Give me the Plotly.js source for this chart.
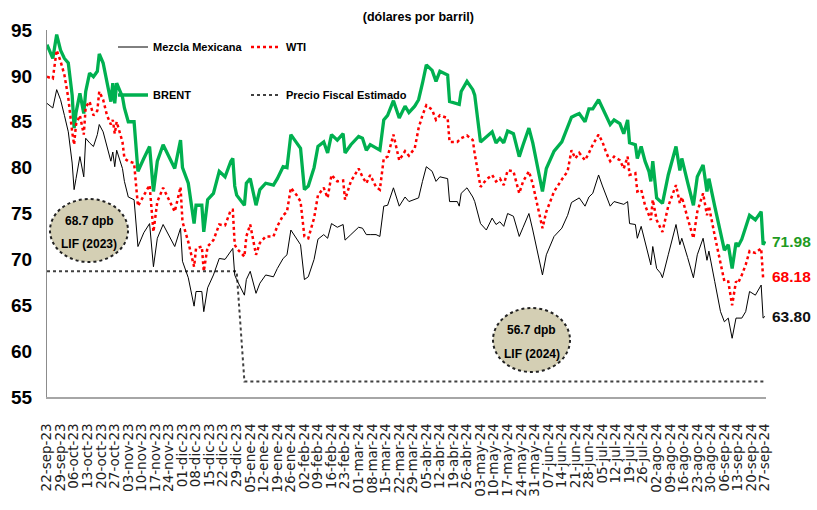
<!DOCTYPE html>
<html><head><meta charset="utf-8">
<script src="https://cdn.plot.ly/plotly-3.0.1.min.js"></script>
<style>html,body{margin:0;padding:0;background:#fff;overflow:hidden}#chart{width:817px;height:510px}</style>
</head><body><div id="chart"></div>
<script>
const fechas = ['2023-09-22','2023-09-25','2023-09-27','2023-09-29','2023-10-01','2023-10-03','2023-10-05','2023-10-06','2023-10-07','2023-10-09',
'2023-10-11','2023-10-12','2023-10-14','2023-10-16','2023-10-18','2023-10-19','2023-10-21','2023-10-23','2023-10-25','2023-10-26',
'2023-10-27','2023-10-28','2023-10-31','2023-11-01','2023-11-03','2023-11-06','2023-11-08','2023-11-11','2023-11-14','2023-11-16',
'2023-11-18','2023-11-21','2023-11-24','2023-11-27','2023-11-30','2023-12-01','2023-12-04','2023-12-07','2023-12-08','2023-12-11',
'2023-12-12','2023-12-14','2023-12-17','2023-12-20','2023-12-23','2023-12-26','2023-12-27','2023-12-28','2023-12-29','2024-01-02',
'2024-01-03','2024-01-05','2024-01-08','2024-01-10','2024-01-13','2024-01-17','2024-01-19','2024-01-22','2024-01-24','2024-01-26',
'2024-01-29','2024-01-31','2024-02-02','2024-02-04','2024-02-07','2024-02-09','2024-02-12','2024-02-14','2024-02-16','2024-02-19',
'2024-02-22','2024-02-23','2024-02-26','2024-03-01','2024-03-03','2024-03-05','2024-03-07','2024-03-10','2024-03-12','2024-03-14',
'2024-03-16','2024-03-19','2024-03-22','2024-03-25','2024-03-27','2024-03-30','2024-04-01','2024-04-03','2024-04-05','2024-04-08',
'2024-04-10','2024-04-12','2024-04-16','2024-04-17','2024-04-21','2024-04-22','2024-04-23','2024-04-26','2024-04-29','2024-04-30',
'2024-05-03','2024-05-06','2024-05-09','2024-05-11','2024-05-13','2024-05-15','2024-05-17','2024-05-20','2024-05-23','2024-05-25',
'2024-05-28','2024-05-30','2024-06-04','2024-06-06','2024-06-10','2024-06-14','2024-06-17','2024-06-19','2024-06-21','2024-06-23',
'2024-06-26','2024-06-28','2024-06-30','2024-07-03','2024-07-05','2024-07-07','2024-07-09','2024-07-11','2024-07-14','2024-07-16',
'2024-07-18','2024-07-19','2024-07-22','2024-07-23','2024-07-25','2024-07-27','2024-07-29','2024-07-30','2024-07-31','2024-08-02',
'2024-08-04','2024-08-05','2024-08-08','2024-08-10','2024-08-12','2024-08-14','2024-08-15','2024-08-18','2024-08-21','2024-08-23',
'2024-08-26','2024-08-28','2024-08-29','2024-09-01','2024-09-04','2024-09-06','2024-09-08','2024-09-10','2024-09-12','2024-09-13',
'2024-09-15','2024-09-17','2024-09-19','2024-09-22','2024-09-25','2024-09-26','2024-09-27'];

const brent = [93.4,91.9,94.5,92.8,91.9,91.4,87.9,84.3,86.0,88.1,
85.9,88.3,90.3,89.9,90.5,92.4,91.4,89.5,87.2,89.2,
87.0,89.2,87.7,86.5,85.0,85.0,79.6,81.0,82.3,77.4,
80.7,82.5,81.2,79.9,83.0,80.0,78.3,73.9,75.9,75.9,
73.0,76.5,77.2,79.6,79.0,80.7,81.0,78.0,77.0,75.9,
78.3,78.8,75.9,77.6,78.3,78.1,78.8,80.1,80.0,83.6,
82.7,82.1,77.6,78.0,80.0,82.3,82.8,81.6,83.6,83.0,
83.7,81.6,82.5,83.4,83.2,81.9,82.5,82.1,81.9,85.2,
85.7,87.3,85.4,86.7,86.0,86.7,87.4,89.2,91.2,90.6,
89.4,90.5,90.1,87.2,87.0,86.9,88.3,89.4,88.5,87.9,
82.8,83.3,83.9,82.7,83.2,82.7,84.0,83.7,81.2,82.5,
84.3,82.7,77.4,79.9,81.8,82.8,84.3,85.5,85.7,85.9,
85.0,86.4,86.4,87.4,86.5,85.5,84.7,85.2,84.8,83.7,
85.2,82.7,82.5,81.0,82.3,80.7,79.6,78.5,80.7,76.7,
76.3,76.1,79.2,80.8,82.3,79.7,81.0,78.4,75.9,79.0,
80.3,77.4,78.8,75.8,72.7,71.0,71.6,69.0,71.8,71.4,
72.2,73.4,74.8,74.3,75.2,71.6,71.98];

const wti = [89.9,89.7,92.8,91.6,90.1,87.6,83.9,82.5,84.7,85.7,
83.6,86.6,87.2,85.7,86.2,88.3,87.4,85.7,84.7,85.2,
83.7,85.0,82.8,81.0,80.7,80.5,75.8,77.0,78.1,73.0,
76.3,77.8,76.5,75.2,77.9,74.1,71.9,69.2,71.2,71.4,
68.7,71.4,72.1,73.8,73.7,75.4,75.4,71.6,71.2,70.3,
72.5,73.8,70.5,71.8,72.5,72.5,73.6,74.8,75.2,77.8,
77.0,76.3,72.5,72.3,74.5,77.0,77.8,76.7,79.2,78.5,
78.6,76.5,78.5,79.9,79.0,78.3,79.2,77.9,77.6,81.0,
81.2,83.6,80.8,81.8,81.3,82.1,84.3,85.7,86.8,86.3,
85.2,85.7,85.4,82.8,82.8,83.0,83.2,83.5,83.0,81.5,
77.9,78.7,79.2,78.5,78.8,78.1,79.7,79.6,77.2,78.5,
79.6,78.2,73.4,75.2,77.4,78.7,79.6,81.9,81.0,81.6,
80.8,81.6,82.5,83.6,82.8,81.6,80.7,81.2,80.8,79.9,
81.2,79.2,79.4,77.4,77.6,75.9,74.8,74.3,76.5,74.3,
73.4,73.0,75.8,77.0,78.1,76.1,76.8,74.5,72.3,75.2,
77.2,74.8,75.8,72.6,69.4,67.6,67.6,65.0,67.6,67.4,
68.3,69.4,70.9,70.7,71.2,68.0,68.18];

const mezcla = [87.0,86.5,88.5,87.4,85.7,83.9,80.5,77.6,78.8,81.2,
79.0,83.2,82.7,82.3,83.6,84.7,83.9,82.3,80.7,81.7,
80.1,81.9,79.9,78.5,76.8,76.5,71.4,72.9,73.9,69.2,
72.3,73.8,72.6,71.4,73.4,69.8,68.0,64.9,66.5,66.5,
64.3,66.9,68.3,70.1,70.0,71.0,71.2,68.3,67.8,66.1,
67.8,68.7,66.3,67.4,68.3,68.1,69.0,70.1,70.5,73.2,
72.3,71.6,67.8,68.1,70.0,72.2,72.7,72.3,73.9,73.5,
73.8,72.1,72.7,73.5,73.4,72.7,72.7,72.7,72.5,75.8,
75.9,77.8,75.8,76.8,76.3,76.5,76.7,78.5,80.1,79.6,
78.5,79.0,78.8,76.3,76.3,75.8,77.2,77.8,76.8,76.3,
73.9,73.2,74.5,73.8,74.1,73.6,75.0,74.7,72.5,73.5,
75.0,73.2,68.3,70.5,72.5,73.4,74.8,76.2,76.5,76.7,
75.8,76.8,77.2,79.2,78.0,77.0,75.8,76.3,76.1,76.0,
76.3,73.9,73.8,72.3,73.6,71.9,70.5,69.4,71.4,69.0,
68.5,68.0,70.5,72.2,73.8,71.6,72.3,70.2,68.0,70.5,
72.3,69.9,70.9,67.6,64.3,63.2,63.6,61.4,63.6,63.6,
63.6,64.3,66.5,66.1,67.2,63.6,63.80];

const fiscalFechas = ['2023-09-22','2023-12-29','2024-01-02','2024-09-27'];
const fiscal = [68.7,68.7,56.7,56.7];

const tickFechas = ['2023-09-22','2023-09-29','2023-10-06','2023-10-13','2023-10-20','2023-10-27','2023-11-03','2023-11-10','2023-11-17','2023-11-24',
'2023-12-01','2023-12-08','2023-12-15','2023-12-22','2023-12-29','2024-01-05','2024-01-12','2024-01-19','2024-01-26','2024-02-02',
'2024-02-09','2024-02-16','2024-02-23','2024-03-01','2024-03-08','2024-03-15','2024-03-22','2024-03-29','2024-04-05','2024-04-12',
'2024-04-19','2024-04-26','2024-05-03','2024-05-10','2024-05-17','2024-05-24','2024-05-31','2024-06-07','2024-06-14','2024-06-21',
'2024-06-28','2024-07-05','2024-07-12','2024-07-19','2024-07-26','2024-08-02','2024-08-09','2024-08-16','2024-08-23','2024-08-30',
'2024-09-06','2024-09-13','2024-09-20','2024-09-27'];
const tickEtiquetas = ['22-sep-23','29-sep-23','06-oct-23','13-oct-23','20-oct-23','27-oct-23','03-nov-23','10-nov-23','17-nov-23','24-nov-23',
'01-dic-23','08-dic-23','15-dic-23','22-dic-23','29-dic-23','05-ene-24','12-ene-24','19-ene-24','26-ene-24','02-feb-24',
'09-feb-24','16-feb-24','23-feb-24','01-mar-24','08-mar-24','15-mar-24','22-mar-24','29-mar-24','05-abr-24','12-abr-24',
'19-abr-24','26-abr-24','03-may-24','10-may-24','17-may-24','24-may-24','31-may-24','07-jun-24','14-jun-24','21-jun-24',
'28-jun-24','05-jul-24','12-jul-24','19-jul-24','26-jul-24','02-ago-24','09-ago-24','16-ago-24','23-ago-24','30-ago-24',
'06-sep-24','13-sep-24','20-sep-24','27-sep-24'];

const NARROW = "'Liberation Sans Narrow', 'Arial Narrow', 'Liberation Sans', Arial, sans-serif";
const last = fechas.length - 1;

const traces = [
  {x: fiscalFechas, y: fiscal, name: 'Precio Fiscal Estimado', mode: 'lines', legend: 'legend4',
   line: {color: '#404040', width: 2, dash: 'dot'}},
  {x: fechas, y: brent, name: 'BRENT', mode: 'lines', legend: 'legend3',
   line: {color: '#00B050', width: 3.3}},
  {x: fechas, y: wti, name: 'WTI', mode: 'lines', legend: 'legend2',
   line: {color: '#FF0000', width: 2.5, dash: 'dot'}},
  {x: fechas, y: mezcla, name: 'Mezcla Mexicana', mode: 'lines', legend: 'legend',
   line: {color: '#000000', width: 1}}
];

function px2x(p){ return (p-47)/719; }
function px2y(p){ return 1-(p-30)/367; }

const lblFont = (c, s) => ({family: NARROW, size: s, color: c, weight: 'bold'});
const noteAt = (px, py, text) => ({xref: 'paper', yref: 'paper', x: px2x(px), y: px2y(py), text: text,
  showarrow: false, xanchor: 'center', yanchor: 'middle', font: lblFont('#000', 12)});
const endLabel = (serie, color) => ({x: fechas[last], y: serie[last], text: serie[last].toFixed(2), showarrow: false,
  xanchor: 'left', yanchor: 'middle', xshift: 5, font: lblFont(color, 15.5)});
const legendAt = (textPx, rowPy) => ({orientation: 'h', x: px2x(textPx - 40), y: px2y(rowPy), xanchor: 'left',
  yanchor: 'middle', bgcolor: 'rgba(0,0,0,0)', font: lblFont('#000', 11)});

const layout = {
  width: 817, height: 510,
  margin: {l: 47, r: 51, t: 30, b: 113},
  paper_bgcolor: '#fff', plot_bgcolor: '#fff',
  showlegend: true,
  title: {text: '(dólares por barril)', x: 0.512, xref: 'container', y: 0.967, yref: 'container',
          xanchor: 'center', yanchor: 'middle', font: lblFont('#000', 12.5)},
  xaxis: {type: 'date', range: ['2023-09-22', '2024-09-27 12:00'], tickvals: tickFechas, ticktext: tickEtiquetas,
          tickangle: -90, tickfont: {family: 'DejaVu Sans', size: 13.5, color: '#222'}, ticks: '',
          showgrid: false, zeroline: false, showline: true, linecolor: '#a6a6a6', linewidth: 2,
          ticklabelstandoff: 19, fixedrange: true},
  yaxis: {range: [55, 95], dtick: 5, tick0: 55, showgrid: false, zeroline: false, showline: true,
          linecolor: '#8c8c8c', linewidth: 1, ticks: '', ticklabelstandoff: 10,
          tickfont: lblFont('#000', 19), fixedrange: true},
  legend: legendAt(153, 47),
  legend2: legendAt(286, 47),
  legend3: legendAt(153, 95),
  legend4: legendAt(286, 95),
  shapes: [
    {type: 'circle', xref: 'paper', yref: 'paper', x0: px2x(50), x1: px2x(128), y0: px2y(262), y1: px2y(199),
     fillcolor: '#d4cfb4', line: {color: '#222', width: 2, dash: 'dot'}, layer: 'above'},
    {type: 'circle', xref: 'paper', yref: 'paper', x0: px2x(493), x1: px2x(570), y0: px2y(372), y1: px2y(308),
     fillcolor: '#d4cfb4', line: {color: '#222', width: 2, dash: 'dot'}, layer: 'above'}
  ],
  annotations: [
    noteAt(89, 221, '68.7 dpb'), noteAt(89, 244, 'LIF (2023)'),
    noteAt(531.5, 330, '56.7 dpb'), noteAt(531.5, 354, 'LIF (2024)'),
    endLabel(brent, '#1f9b1f'), endLabel(wti, '#FF0000'), endLabel(mezcla, '#111')
  ]
};

Plotly.newPlot('chart', traces, layout, {displayModeBar: false, staticPlot: true});
</script>
</body></html>
